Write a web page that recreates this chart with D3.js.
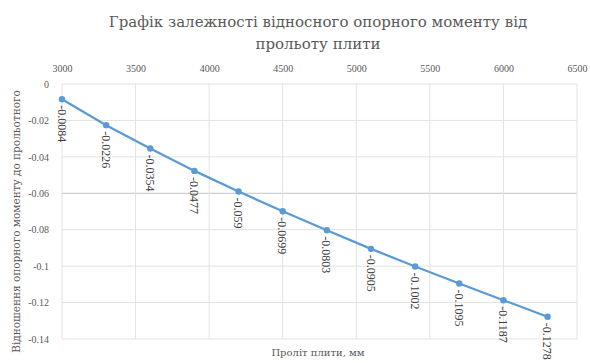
<!DOCTYPE html>
<html>
<head>
<meta charset="utf-8">
<script src="https://cdn.jsdelivr.net/npm/d3@7"></script>
<style>
  body { margin: 0; background: #fff; }
  text { font-family: "Liberation Serif", "DejaVu Serif", serif; }
</style>
</head>
<body>
<div id="chart"></div>
<script>
// span of the slab, mm
const spans = [3000, 3300, 3600, 3900, 4200, 4500, 4800, 5100, 5400, 5700, 6000, 6300];
// relative support moment
const ratios = [-0.0084, -0.0226, -0.0354, -0.0477, -0.059, -0.0699, -0.0803, -0.0905, -0.1002, -0.1095, -0.1187, -0.1278];
const xTicks = [3000, 3500, 4000, 4500, 5000, 5500, 6000, 6500];
const yTicks = [0, -0.02, -0.04, -0.06, -0.08, -0.1, -0.12, -0.14];
const titleLines = ['Графік залежності відносного опорного моменту від', 'прольоту плити'];

const width = 590, height = 363;
const margin = { top: 84, right: 13, bottom: 24, left: 62 };
const innerW = width - margin.left - margin.right;
const innerH = height - margin.top - margin.bottom;

const svg = d3.select('#chart')
  .append('svg')
  .attr('width', width)
  .attr('height', height);

const x = d3.scaleLinear().domain([3000, 6500]).range([margin.left, margin.left + innerW]);
const y = d3.scaleLinear().domain([0, -0.14]).range([margin.top, margin.top + innerH]);

// --- GRID ---
const grid = svg.append('g');
grid.selectAll('line.h')
  .data(yTicks)
  .join('line')
  .attr('class', 'h')
  .attr('x1', x(3000)).attr('x2', x(6500))
  .attr('y1', d => y(d)).attr('y2', d => y(d))
  .attr('stroke', d => d === -0.06 ? '#c4c4c4' : '#e3e3e3')
  .attr('stroke-width', 1);

grid.selectAll('line.v')
  .data(xTicks)
  .join('line')
  .attr('class', 'v')
  .attr('x1', d => x(d)).attr('x2', d => x(d))
  .attr('y1', y(0)).attr('y2', y(-0.14))
  .attr('stroke', '#e3e3e3')
  .attr('stroke-width', 1);

// --- AXES ---
const xAxis = svg.append('g')
  .attr('transform', `translate(0,${margin.top - 9})`)
  .call(d3.axisTop(x).tickValues(xTicks).tickFormat(d3.format('d')).tickSize(0));
xAxis.select('.domain').remove();
xAxis.selectAll('text')
  .attr('font-size', 10)
  .attr('fill', '#595959')
  .style('font-family', '"Liberation Serif", serif');

const yAxis = svg.append('g')
  .attr('transform', `translate(${margin.left - 10},0)`)
  .call(d3.axisLeft(y).tickValues(yTicks).tickFormat(d => d === 0 ? '0' : String(d)).tickSize(0));
yAxis.select('.domain').remove();
yAxis.selectAll('text')
  .attr('font-size', 10)
  .attr('fill', '#595959')
  .style('font-family', '"Liberation Serif", serif');

// --- LINE ---
const pts = spans.map((s, i) => ({ s, v: ratios[i] }));
svg.append('path')
  .datum(pts)
  .attr('fill', 'none')
  .attr('stroke', '#5b9bd5')
  .attr('stroke-width', 2.25)
  .attr('d', d3.line().x(d => x(d.s)).y(d => y(d.v)));

svg.append('g')
  .selectAll('circle')
  .data(pts)
  .join('circle')
  .attr('cx', d => x(d.s))
  .attr('cy', d => y(d.v))
  .attr('r', 3.2)
  .attr('fill', '#5b9bd5');

// data labels, rotated
svg.append('g')
  .selectAll('text')
  .data(pts)
  .join('text')
  .attr('transform', d => `translate(${x(d.s) - 4.5},${y(d.v) + 6}) rotate(90)`)
  .attr('font-size', 12)
  .attr('fill', '#404040')
  .style('font-family', '"Liberation Serif", serif')
  .text(d => String(d.v));

// --- TITLES ---
svg.append('g')
  .selectAll('text')
  .data(titleLines)
  .join('text')
  .attr('x', 318)
  .attr('y', (d, i) => 27 + i * 22)
  .attr('text-anchor', 'middle')
  .attr('font-size', 15)
  .attr('fill', '#595959')
  .style('font-family', '"DejaVu Serif", serif')
  .text(d => d);

svg.append('text')
  .attr('x', 318)
  .attr('y', 356)
  .attr('text-anchor', 'middle')
  .attr('font-size', 10)
  .attr('fill', '#595959')
  .style('font-family', '"DejaVu Serif", serif')
  .text('Проліт плити, мм');

svg.append('text')
  .attr('transform', `translate(20,${(margin.top + height) / 2 - 2}) rotate(-90)`)
  .attr('text-anchor', 'middle')
  .attr('font-size', 10.5)
  .attr('fill', '#595959')
  .style('font-family', '"DejaVu Serif", serif')
  .text('Відношення опорного моменту до прольотного');
</script>
</body>
</html>
